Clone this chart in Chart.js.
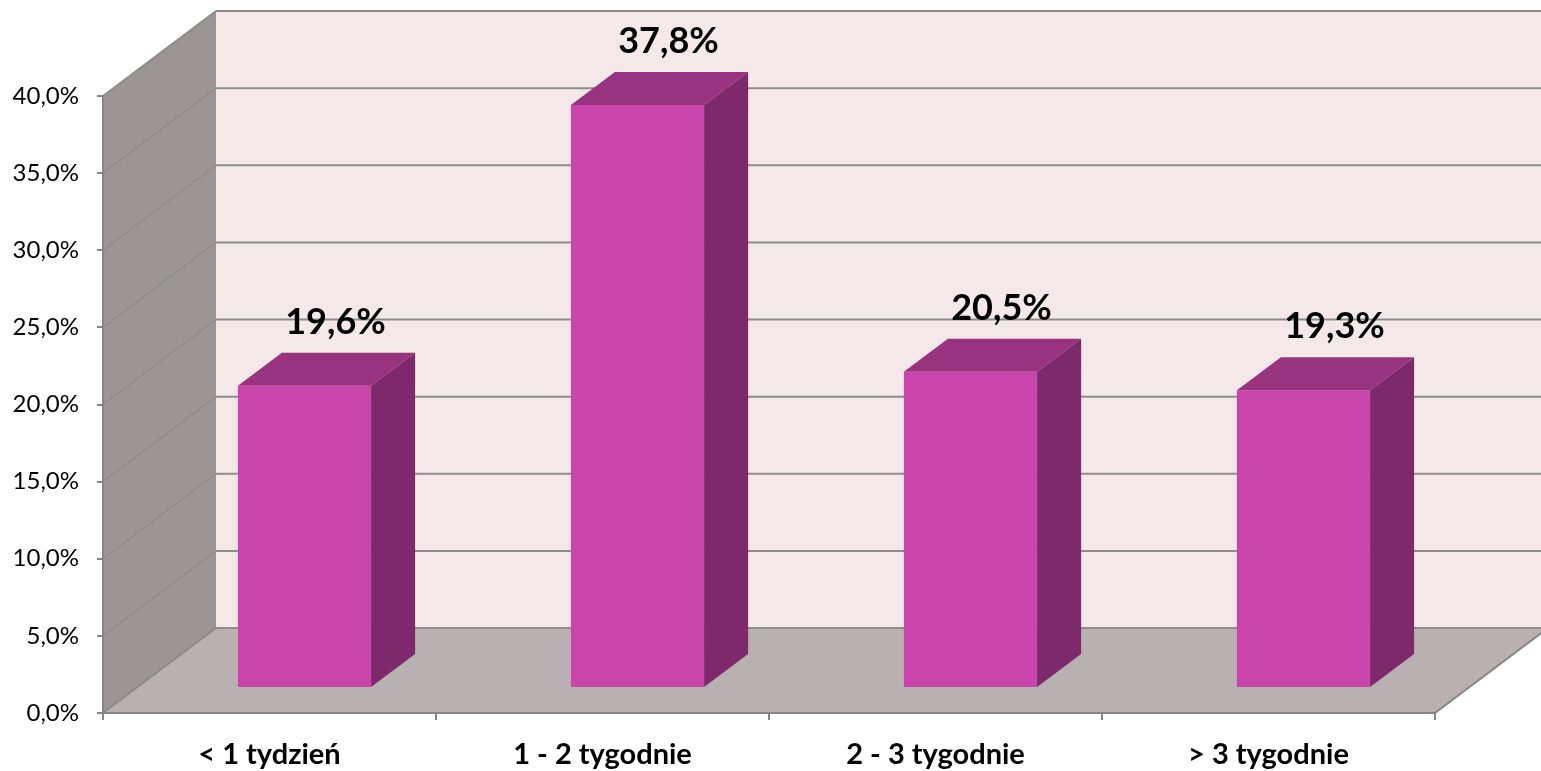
<!DOCTYPE html>
<html>
<head>
<meta charset="utf-8">
<script src="https://cdn.jsdelivr.net/npm/chart.js@4.4.1/dist/chart.umd.min.js"></script>
<style>
  html, body { margin: 0; padding: 0; background: #ffffff; overflow: hidden; }
  #wrap { width: 1541px; height: 771px; position: relative; }
</style>
</head>
<body>
<div id="wrap"><canvas id="c"></canvas></div>
<script>
// Categories and their shares (percent)
const categories = ['< 1 tydzień', '1 - 2 tygodnie', '2 - 3 tygodnie', '> 3 tygodnie'];
const shares = [19.6, 37.8, 20.5, 19.3];
// Value axis range
const axisMin = 0;
const axisMax = 40;
const axisStep = 5;

const pct = v => v.toFixed(1).replace('.', ',') + '%';

// 3-D box geometry: offset of the back wall, and where the bars sit in depth
const DEPTH = { dx: 113, dy: -85 };
const BAR_FRONT = { dx: 35, dy: -25 };
const BAR_DEPTH = { dx: 44, dy: -33 };

const COL = {
  backWall: '#F4E8E8',
  sideWall: '#9C9595',
  floor: '#B9B1B1',
  grid: '#8C8C8C',
  axis: '#868686',
  barFront: '#C945AC',
  barTop: '#98337F',
  barSide: '#7E296B'
};

// Walls, floor and their gridlines, drawn behind the axes
const boxPlugin = {
  id: 'box3d',
  beforeDraw(chart) {
    const ctx = chart.ctx;
    const { left, right, bottom } = chart.chartArea;
    const ys = chart.scales.y;
    const yTop = ys.getPixelForValue(axisMax);
    const yBot = ys.getPixelForValue(axisMin);
    const bx0 = left + DEPTH.dx, bx1 = right + DEPTH.dx;
    const byTop = yTop + DEPTH.dy, byBot = yBot + DEPTH.dy;

    ctx.save();
    // back wall
    ctx.fillStyle = COL.backWall;
    ctx.fillRect(bx0, byTop, bx1 - bx0, byBot - byTop);
    // side wall
    ctx.fillStyle = COL.sideWall;
    ctx.beginPath();
    ctx.moveTo(left, yTop);
    ctx.lineTo(bx0, byTop);
    ctx.lineTo(bx0, byBot);
    ctx.lineTo(left, yBot);
    ctx.closePath();
    ctx.fill();
    // floor
    ctx.fillStyle = COL.floor;
    ctx.beginPath();
    ctx.moveTo(left, bottom);
    ctx.lineTo(right, bottom);
    ctx.lineTo(bx1, byBot);
    ctx.lineTo(bx0, byBot);
    ctx.closePath();
    ctx.fill();

    // gridlines on the back wall and the side wall
    ctx.strokeStyle = COL.grid;
    for (let v = axisMin; v <= axisMax + 1e-9; v += axisStep) {
      const py = ys.getPixelForValue(v);
      ctx.lineWidth = 2;
      ctx.beginPath();
      ctx.moveTo(bx0, py + DEPTH.dy);
      ctx.lineTo(bx1, py + DEPTH.dy);
      ctx.stroke();
      ctx.lineWidth = (v === axisMin || v === axisMax) ? 2 : 1.3;
      ctx.beginPath();
      ctx.moveTo(left, py);
      ctx.lineTo(bx0, py + DEPTH.dy);
      ctx.stroke();
    }
    // right edge of the floor
    ctx.strokeStyle = COL.axis;
    ctx.lineWidth = 2;
    ctx.beginPath();
    ctx.moveTo(right, bottom);
    ctx.lineTo(bx1, byBot);
    ctx.stroke();
    ctx.restore();
  }
};

// Bars: the library draws the front faces shifted into depth; top/side faces and labels follow
const barPlugin = {
  id: 'bars3d',
  beforeDatasetsDraw(chart) {
    chart.ctx.save();
    chart.ctx.translate(BAR_FRONT.dx, BAR_FRONT.dy);
  },
  afterDatasetsDraw(chart) {
    const ctx = chart.ctx;
    ctx.restore();
    const meta = chart.getDatasetMeta(0);
    ctx.save();
    meta.data.forEach((el, i) => {
      const p = el.getProps(['x', 'y', 'base', 'width'], true);
      const x0 = p.x - p.width / 2 + BAR_FRONT.dx;
      const x1 = p.x + p.width / 2 + BAR_FRONT.dx;
      const yt = p.y + BAR_FRONT.dy;
      const yb = p.base + BAR_FRONT.dy;
      // top face
      ctx.fillStyle = COL.barTop;
      ctx.beginPath();
      ctx.moveTo(x0, yt);
      ctx.lineTo(x0 + BAR_DEPTH.dx, yt + BAR_DEPTH.dy);
      ctx.lineTo(x1 + BAR_DEPTH.dx, yt + BAR_DEPTH.dy);
      ctx.lineTo(x1, yt);
      ctx.closePath();
      ctx.fill();
      // side face
      ctx.fillStyle = COL.barSide;
      ctx.beginPath();
      ctx.moveTo(x1, yt);
      ctx.lineTo(x1 + BAR_DEPTH.dx, yt + BAR_DEPTH.dy);
      ctx.lineTo(x1 + BAR_DEPTH.dx, yb + BAR_DEPTH.dy);
      ctx.lineTo(x1, yb);
      ctx.closePath();
      ctx.fill();
      // value label
      ctx.fillStyle = '#000000';
      ctx.font = 'bold 36px Lato, "Open Sans", sans-serif';
      ctx.textAlign = 'center';
      ctx.textBaseline = 'alphabetic';
      ctx.fillText(pct(shares[i]), (x0 + x1) / 2 + 31, yt + BAR_DEPTH.dy - 19);
    });
    ctx.restore();
  }
};

new Chart(document.getElementById('c'), {
  type: 'bar',
  data: {
    labels: categories,
    datasets: [{
      data: shares,
      backgroundColor: COL.barFront,
      borderWidth: 0,
      barPercentage: 0.4,
      categoryPercentage: 1,
      clip: false
    }]
  },
  options: {
    responsive: true,
    maintainAspectRatio: false,
    animation: false,
    layout: { padding: { top: 96, right: 106, left: 0, bottom: 0 } },
    plugins: { legend: { display: false }, tooltip: { enabled: false }, title: { display: false } },
    scales: {
      x: {
        grid: { display: true, drawOnChartArea: false, drawTicks: true, tickLength: 7, color: COL.axis, lineWidth: 2, offset: true },
        border: { display: true, color: COL.axis, width: 2 },
        ticks: { color: '#000000', font: { family: 'Lato, "Open Sans", sans-serif', size: 29, weight: 'bold' }, padding: 17, maxRotation: 0 },
        afterFit(scale) { scale.height = 58; }
      },
      y: {
        min: axisMin,
        max: axisMax,
        grid: { display: true, drawOnChartArea: false, drawTicks: true, tickLength: 6, color: COL.axis, lineWidth: 2 },
        border: { display: true, color: COL.axis, width: 2 },
        ticks: { stepSize: axisStep, color: '#000000', padding: 18, font: { family: 'Lato, "Open Sans", sans-serif', size: 24 }, callback: v => pct(v) },
        afterFit(scale) { scale.width = 103; }
      }
    }
  },
  plugins: [boxPlugin, barPlugin]
});
</script>
</body>
</html>
